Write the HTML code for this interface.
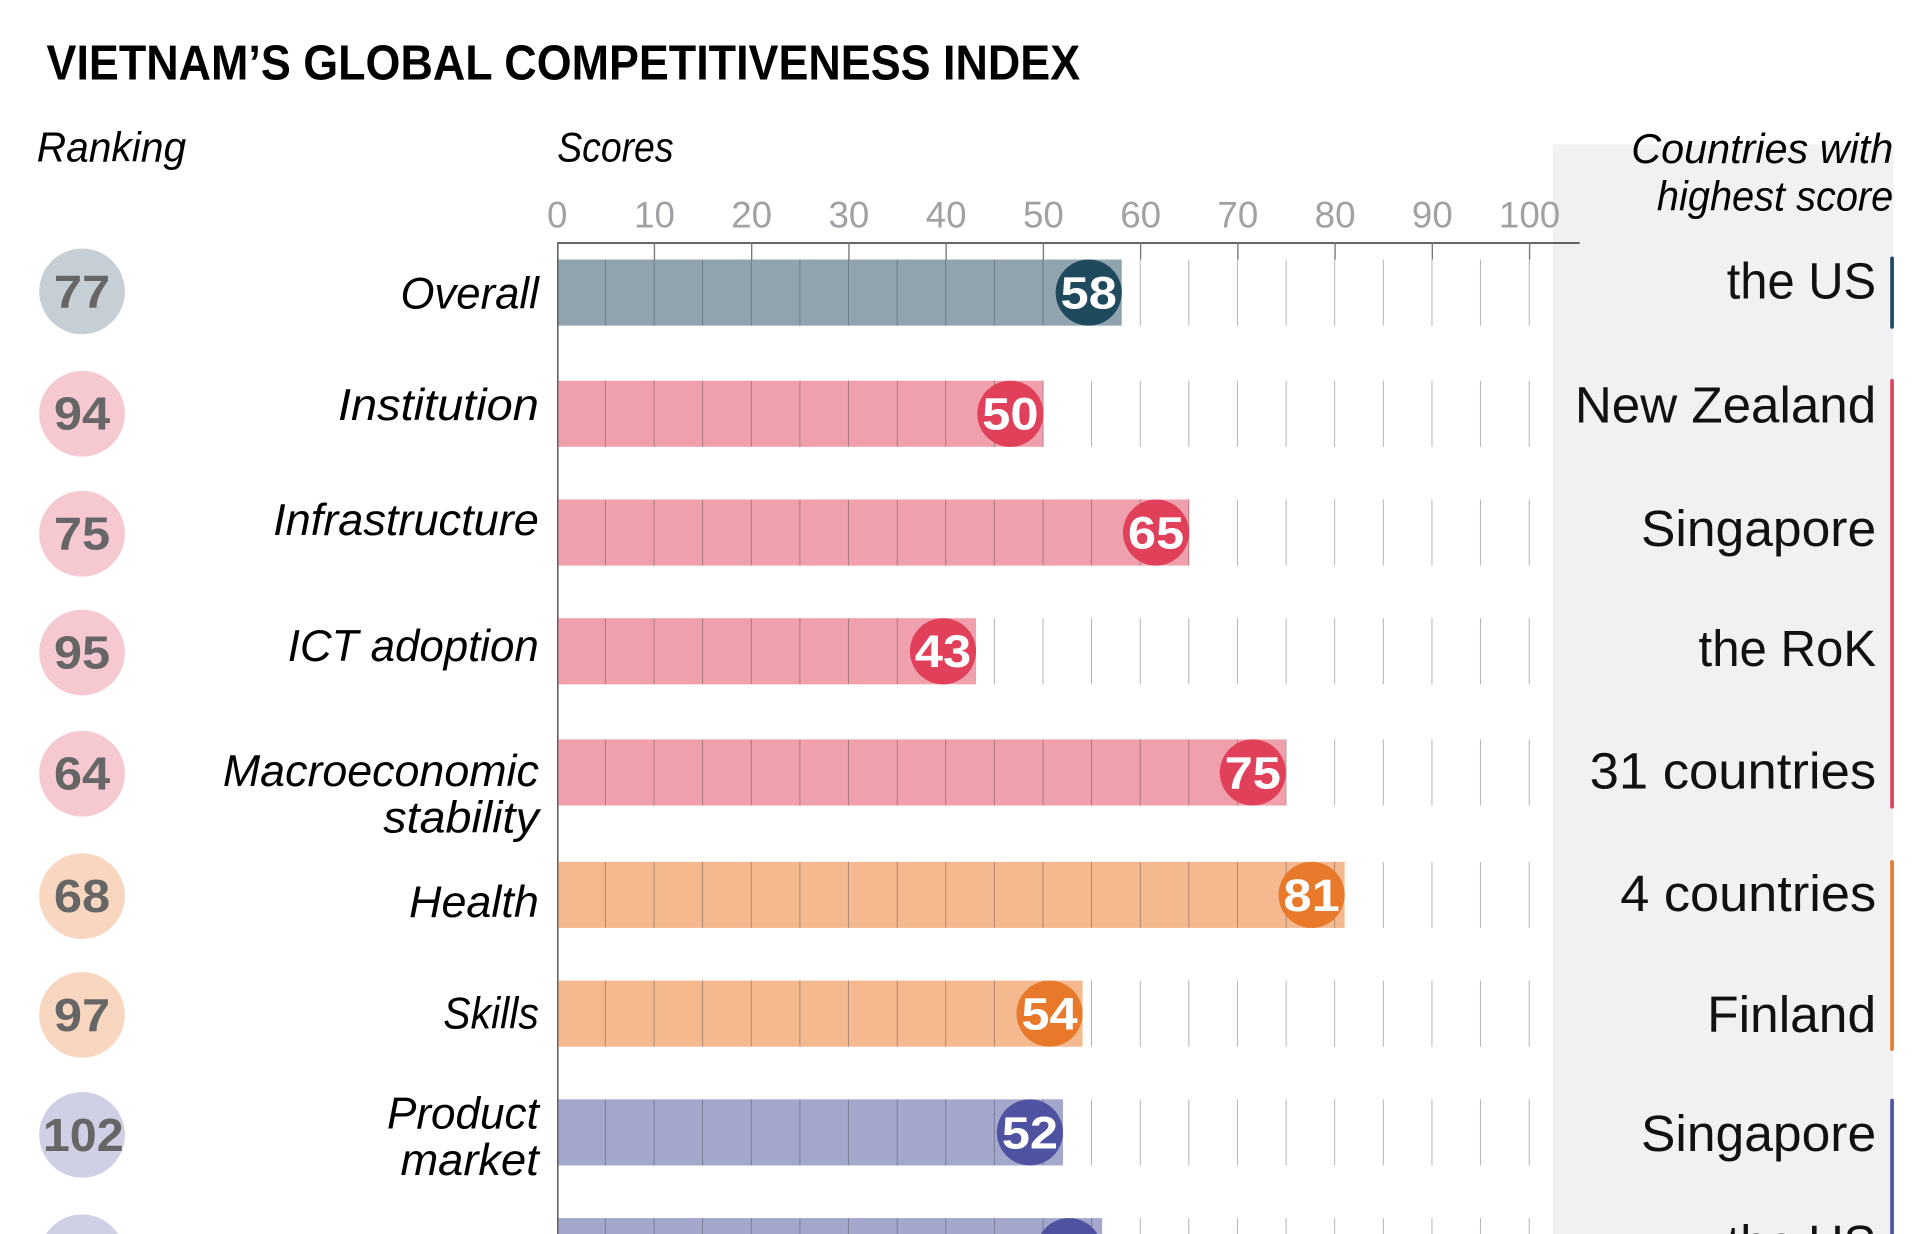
<!DOCTYPE html>
<html><head><meta charset="utf-8"><style>
html,body{margin:0;padding:0;background:#fff;width:1919px;height:1234px;overflow:hidden;}
svg{display:block;}
text{font-family:"Liberation Sans",sans-serif;}
.it{font-style:italic;}
</style></head><body>
<svg width="1919" height="1234" viewBox="0 0 1567 1008" preserveAspectRatio="none" xmlns="http://www.w3.org/2000/svg">
<defs>
<pattern id="g" patternUnits="userSpaceOnUse" x="455" y="0" width="39.7" height="10">
<rect x="39.1" y="0" width="1.1" height="10" fill="rgba(50,50,60,0.5)"/>
</pattern>
</defs>
<rect width="1567" height="1010" fill="#fff"/>
<rect x="1268" y="118" width="278" height="900" fill="#f1f1f3"/>
<text x="38" y="65" font-size="40" font-weight="bold" textLength="844" lengthAdjust="spacingAndGlyphs">VIETNAM’S GLOBAL COMPETITIVENESS INDEX</text>
<text class="it" x="30" y="132" font-size="34" textLength="122" lengthAdjust="spacingAndGlyphs">Ranking</text>
<text class="it" x="455" y="132" font-size="34" textLength="95" lengthAdjust="spacingAndGlyphs">Scores</text>
<text class="it" x="1546" y="133" font-size="34" text-anchor="end" textLength="214" lengthAdjust="spacingAndGlyphs">Countries with</text>
<text class="it" x="1546" y="172" font-size="34" text-anchor="end" textLength="193" lengthAdjust="spacingAndGlyphs">highest score</text>
<g font-size="30" fill="#a0a0a5" text-anchor="middle">
<text x="455" y="186">0</text><text x="534.4" y="186">10</text><text x="613.8" y="186">20</text><text x="693.2" y="186">30</text><text x="772.6" y="186">40</text><text x="852" y="186">50</text><text x="931.4" y="186">60</text><text x="1010.8" y="186">70</text><text x="1090.2" y="186">80</text><text x="1169.6" y="186">90</text><text x="1249" y="186">100</text>
</g>
<line x1="455" y1="198.5" x2="1290" y2="198.5" stroke="#333" stroke-width="1.2"/>
<line x1="455.5" y1="198" x2="455.5" y2="1010" stroke="#555" stroke-width="1.2"/>
<g stroke="#777" stroke-width="1.1">
<line x1="534.4" y1="198" x2="534.4" y2="212"/><line x1="613.8" y1="198" x2="613.8" y2="212"/><line x1="693.2" y1="198" x2="693.2" y2="212"/><line x1="772.6" y1="198" x2="772.6" y2="212"/><line x1="852" y1="198" x2="852" y2="212"/><line x1="931.4" y1="198" x2="931.4" y2="212"/><line x1="1010.8" y1="198" x2="1010.8" y2="212"/><line x1="1090.2" y1="198" x2="1090.2" y2="212"/><line x1="1169.6" y1="198" x2="1169.6" y2="212"/><line x1="1249" y1="198" x2="1249" y2="212"/>
</g>
<rect x="456" y="212" width="460" height="54" fill="#91a4ae"/>
<rect x="456" y="311" width="396" height="54" fill="#f0a0ac"/>
<rect x="456" y="408" width="515" height="54" fill="#f0a0ac"/>
<rect x="456" y="505" width="341" height="54" fill="#f0a0ac"/>
<rect x="456" y="604" width="594" height="54" fill="#f0a0ac"/>
<rect x="456" y="704" width="642" height="54" fill="#f5b990"/>
<rect x="456" y="801" width="428" height="54" fill="#f5b990"/>
<rect x="456" y="898" width="412" height="54" fill="#a4a7cc"/>
<rect x="456" y="995" width="444" height="54" fill="#a4a7cc"/>
<g fill="url(#g)">
<rect x="456" y="212" width="795" height="54"/><rect x="456" y="311" width="795" height="54"/><rect x="456" y="408" width="795" height="54"/><rect x="456" y="505" width="795" height="54"/><rect x="456" y="604" width="795" height="54"/><rect x="456" y="704" width="795" height="54"/><rect x="456" y="801" width="795" height="54"/><rect x="456" y="898" width="795" height="54"/><rect x="456" y="995" width="795" height="54"/>
</g>
<g font-size="37" font-weight="bold" fill="#fff" text-anchor="middle">
<circle cx="889" cy="239" r="27" fill="#1f4a5e"/><text x="889" y="252" textLength="46" lengthAdjust="spacingAndGlyphs">58</text>
<circle cx="825" cy="338" r="27" fill="#e0405a"/><text x="825" y="351" textLength="46" lengthAdjust="spacingAndGlyphs">50</text>
<circle cx="944" cy="435" r="27" fill="#e0405a"/><text x="944" y="448" textLength="46" lengthAdjust="spacingAndGlyphs">65</text>
<circle cx="770" cy="532" r="27" fill="#e0405a"/><text x="770" y="545" textLength="46" lengthAdjust="spacingAndGlyphs">43</text>
<circle cx="1023" cy="631" r="27" fill="#e0405a"/><text x="1023" y="644" textLength="46" lengthAdjust="spacingAndGlyphs">75</text>
<circle cx="1071" cy="731" r="27" fill="#e8792a"/><text x="1071" y="744" textLength="46" lengthAdjust="spacingAndGlyphs">81</text>
<circle cx="857" cy="828" r="27" fill="#e8792a"/><text x="857" y="841" textLength="46" lengthAdjust="spacingAndGlyphs">54</text>
<circle cx="841" cy="925" r="27" fill="#4e52a0"/><text x="841" y="938" textLength="46" lengthAdjust="spacingAndGlyphs">52</text>
<circle cx="873" cy="1022" r="27" fill="#4e52a0"/>
</g>
<g font-size="38" font-weight="bold" fill="#666" text-anchor="middle">
<circle cx="67" cy="238" r="35" fill="#c5cfd5"/><text x="67" y="251" textLength="46" lengthAdjust="spacingAndGlyphs">77</text>
<circle cx="67" cy="338" r="35" fill="#f6c9d1"/><text x="67" y="351" textLength="46" lengthAdjust="spacingAndGlyphs">94</text>
<circle cx="67" cy="436" r="35" fill="#f6c9d1"/><text x="67" y="449" textLength="46" lengthAdjust="spacingAndGlyphs">75</text>
<circle cx="67" cy="533" r="35" fill="#f6c9d1"/><text x="67" y="546" textLength="46" lengthAdjust="spacingAndGlyphs">95</text>
<circle cx="67" cy="632" r="35" fill="#f6c9d1"/><text x="67" y="645" textLength="46" lengthAdjust="spacingAndGlyphs">64</text>
<circle cx="67" cy="732" r="35" fill="#f8d6bf"/><text x="67" y="745" textLength="46" lengthAdjust="spacingAndGlyphs">68</text>
<circle cx="67" cy="829" r="35" fill="#f8d6bf"/><text x="67" y="842" textLength="46" lengthAdjust="spacingAndGlyphs">97</text>
<circle cx="67" cy="927" r="35" fill="#cfd0e6"/><text x="68" y="940" textLength="66" lengthAdjust="spacingAndGlyphs">102</text>
<circle cx="67" cy="1027" r="35" fill="#cfd0e6"/>
</g>
<g class="it" font-size="36" font-style="italic" text-anchor="end">
<text x="440" y="252" textLength="113" lengthAdjust="spacingAndGlyphs">Overall</text>
<text x="440" y="343" textLength="164" lengthAdjust="spacingAndGlyphs">Institution</text>
<text x="440" y="437" textLength="217" lengthAdjust="spacingAndGlyphs">Infrastructure</text>
<text x="440" y="540" textLength="205" lengthAdjust="spacingAndGlyphs">ICT adoption</text>
<text x="440" y="642" textLength="258" lengthAdjust="spacingAndGlyphs">Macroeconomic</text>
<text x="440" y="680" textLength="127" lengthAdjust="spacingAndGlyphs">stability</text>
<text x="440" y="749" textLength="106" lengthAdjust="spacingAndGlyphs">Health</text>
<text x="440" y="840" textLength="78" lengthAdjust="spacingAndGlyphs">Skills</text>
<text x="440" y="922" textLength="124" lengthAdjust="spacingAndGlyphs">Product</text>
<text x="440" y="960" textLength="113" lengthAdjust="spacingAndGlyphs">market</text>
</g>
<g font-size="42" text-anchor="end" fill="#111">
<text x="1532" y="244" textLength="122" lengthAdjust="spacingAndGlyphs">the US</text>
<text x="1532" y="345" textLength="246" lengthAdjust="spacingAndGlyphs">New Zealand</text>
<text x="1532" y="446" textLength="192" lengthAdjust="spacingAndGlyphs">Singapore</text>
<text x="1532" y="544" textLength="145" lengthAdjust="spacingAndGlyphs">the RoK</text>
<text x="1532" y="644" textLength="234" lengthAdjust="spacingAndGlyphs">31 countries</text>
<text x="1532" y="744" textLength="209" lengthAdjust="spacingAndGlyphs">4 countries</text>
<text x="1532" y="843" textLength="138" lengthAdjust="spacingAndGlyphs">Finland</text>
<text x="1532" y="940" textLength="192" lengthAdjust="spacingAndGlyphs">Singapore</text>
<text x="1532" y="1030" textLength="122" lengthAdjust="spacingAndGlyphs">the US</text>
</g>
<g stroke-width="3" stroke-linecap="round">
<line x1="1545" y1="211" x2="1545" y2="267" stroke="#1f4a5e"/>
<line x1="1545" y1="311" x2="1545" y2="659" stroke="#e0405a"/>
<line x1="1545" y1="704" x2="1545" y2="857" stroke="#e8792a"/>
<line x1="1545" y1="899" x2="1545" y2="1010" stroke="#4e52a0"/>
</g>
</svg>
</body></html>
